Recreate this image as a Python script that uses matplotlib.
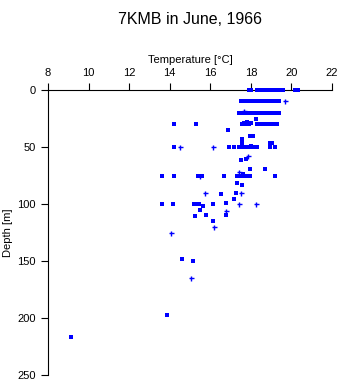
import matplotlib
matplotlib.use('Agg')
import matplotlib.pyplot as plt

title = '7KMB in June, 1966'
x_ticks = [8, 10, 12, 14, 16, 18, 20, 22]
y_ticks = [0, 50, 100, 150, 200, 250]

# square markers: (temperature, depth)
sq_temp = [
    17.9, 18.0, 18.3, 18.4, 18.5, 18.6, 18.7, 18.9, 19.0, 19.1, 19.2, 19.3, 19.4, 19.6, 20.2, 20.3,
    17.5, 17.6, 17.7, 17.8, 17.9, 18.0, 18.1, 18.2, 18.3, 18.4, 18.5, 18.6, 18.7, 18.8, 18.9, 19.0, 19.2, 19.3, 19.4,
    17.4, 17.5, 17.6, 17.8, 17.9, 18.0, 18.1, 18.2, 18.3, 18.4, 18.5, 18.6, 18.7, 18.8, 18.9, 19.0, 19.1, 19.2, 19.3, 19.4,
    18.27, 17.82, 17.64, 18.0,
    14.23, 15.31, 17.55, 17.7, 17.9, 18.3, 18.4, 18.5, 18.6, 18.75, 18.9, 19.0, 19.1, 19.2, 19.3,
    16.89, 17.95, 18.1, 17.58, 17.58, 18.96, 19.02, 18.0,
    14.23, 16.94, 17.18, 17.4, 17.5, 17.6, 17.7, 17.8, 17.9, 18.0, 18.1, 18.2, 18.3, 18.96, 19.2,
    17.53, 17.77, 17.97, 18.71, 17.62,
    13.63, 14.23, 15.4, 15.57, 16.69, 17.31, 17.45, 17.55, 17.74, 17.97, 19.2,
    17.33, 17.58, 17.28, 16.54, 17.18,
    13.63, 14.18, 15.2, 15.3, 15.46, 15.66, 16.15, 16.79,
    15.51, 16.79, 15.8, 15.26, 16.15, 14.62, 15.16, 13.86, 9.15,
]
sq_depth = [
    0, 0, 0, 0, 0, 0, 0, 0, 0, 0, 0, 0, 0, 0, 0, 0,
    10, 10, 10, 10, 10, 10, 10, 10, 10, 10, 10, 10, 10, 10, 10, 10, 10, 10, 10,
    20, 20, 20, 20, 20, 20, 20, 20, 20, 20, 20, 20, 20, 20, 20, 20, 20, 20, 20, 20,
    25.7, 27.8, 28.6, 29,
    30, 30, 30, 30, 30, 30, 30, 30, 30, 30, 30, 30, 30, 30, 30,
    35.4, 40.6, 40.6, 42.7, 46.5, 46.5, 46.5, 48.8,
    50, 50, 50, 50, 50, 50, 50, 50, 50, 50, 50, 50, 50, 50, 50,
    61.4, 60.5, 69.6, 69.6, 74,
    75, 75, 75, 75, 75, 75, 75, 75, 75, 75, 75,
    81.3, 83.6, 90.6, 91.5, 95.3,
    100, 100, 100, 100, 100, 101.5, 100, 99,
    105.5, 109.4, 109.4, 110.3, 115.2, 148.2, 150.3, 197.4, 217,
]

# cross markers
plus_temp = [19.7, 17.64, 14.51, 16.12, 17.86, 15.5, 17.41, 15.74, 17.5, 17.41, 18.24, 16.77, 16.18, 14.08, 15.03]
plus_depth = [10, 18.4, 50, 50, 57.6, 75, 72.2, 90.6, 90.6, 100, 100, 106.4, 120.4, 125.4, 165.2]

plt.rcParams['font.family'] = ['Liberation Sans', 'DejaVu Sans']

fig = plt.figure(figsize=(3.41, 3.84), dpi=100)
ax = fig.add_axes([48 / 341, 1 - 375 / 384, 284 / 341, 285 / 384])

ax.plot(sq_temp, sq_depth, 's', color='#0000ff', markersize=2.3, markeredgewidth=0,
        antialiased=False, clip_on=False, zorder=5)
ax.plot(plus_temp, plus_depth, '+', color='#0000ff', markersize=3.6, markeredgewidth=1.0,
        antialiased=False, clip_on=False, zorder=5)

ax.set_xlim(8, 22)
ax.set_ylim(250, 0)
ax.set_xticks(x_ticks)
ax.set_yticks(y_ticks)
ax.xaxis.tick_top()
ax.xaxis.set_label_position('top')
ax.set_xlabel('Temperature [°C]', fontsize=8, labelpad=3)
ax.set_ylabel('Depth [m]', fontsize=8, labelpad=3)
ax.tick_params(axis='both', labelsize=8, length=5, width=0.8, direction='out', pad=4)
ax.spines['right'].set_visible(False)
ax.spines['bottom'].set_visible(False)
for s in ['top', 'left']:
    ax.spines[s].set_linewidth(0.8)

fig.text(190 / 341, 1 - 20 / 384, title, ha='center', va='center', fontsize=11.5)

plt.savefig('out.png', dpi=100, facecolor='white')
